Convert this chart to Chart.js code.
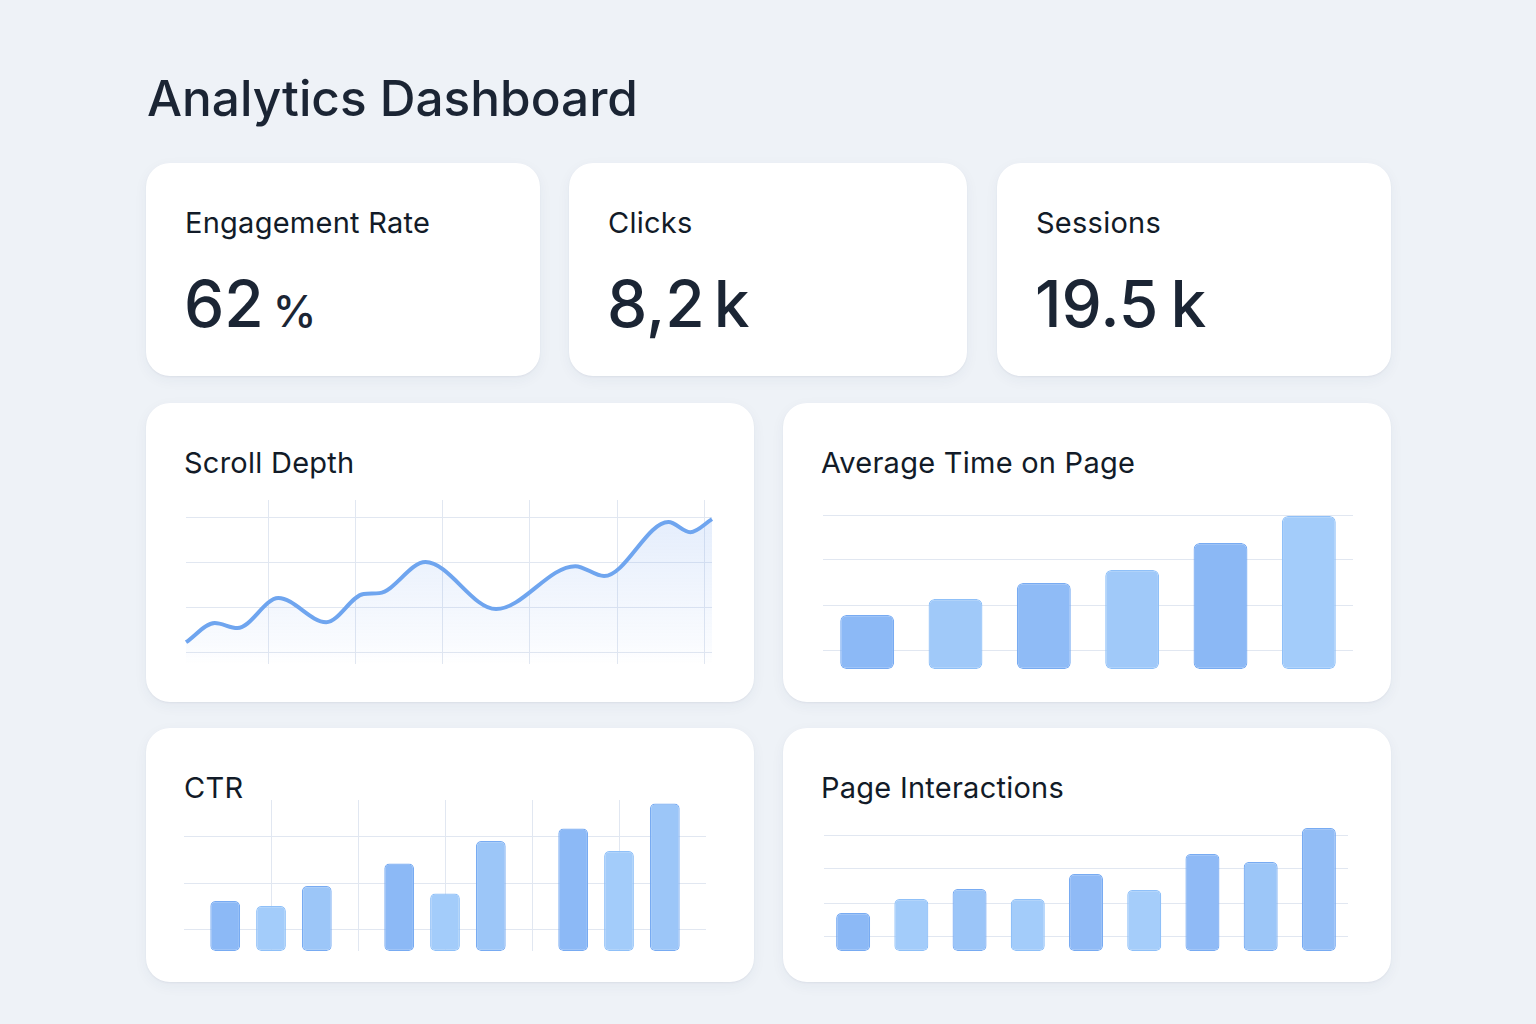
<!DOCTYPE html>
<html>
<head>
<meta charset="utf-8">
<title>Analytics Dashboard</title>
<script src="https://cdn.jsdelivr.net/npm/chart.js@4.4.1/dist/chart.umd.min.js"></script>
<style>
    html, body { margin: 0; padding: 0; }
    body {
        width: 1536px; height: 1024px; position: relative; overflow: hidden;
        background: #eef2f7;
        font-family: Inter, "Noto Sans", sans-serif;
        color: #1b2534;
    }
    h1 {
        position: absolute; left: 147px; top: 74px; margin: 0;
        font-size: 49.5px; line-height: 1; font-weight: 500;
    }
    .card {
        position: absolute; background: #fff; border-radius: 24px;
        box-shadow: 0 1px 2px rgba(30, 50, 90, 0.06), 0 4px 14px rgba(30, 50, 90, 0.05);
    }
    .label {
        position: absolute; left: 39px; top: 45px;
        font-size: 29px; line-height: 1; font-weight: 400; letter-spacing: 0.25px;
        white-space: nowrap; color: #121b28;
    }
    .chart .label { left: 38px; }
    .value {
        position: absolute; left: 38px; top: 109px;
        font-size: 64px; line-height: 1; font-weight: 500; white-space: nowrap;
    }
    .value .unit { margin-left: 9px; }
    .value .pct { font-size: 44px; margin-left: 9px; }
    .plot { position: absolute; }
</style>
</head>
<body>
<h1>Analytics Dashboard</h1>

<div class="card" style="left:146px;top:163px;width:394px;height:213px">
    <div class="label">Engagement Rate</div>
    <div class="value">62<span class="pct">%</span></div>
</div>
<div class="card" style="left:569px;top:163px;width:398px;height:213px">
    <div class="label">Clicks</div>
    <div class="value">8,2<span class="unit">k</span></div>
</div>
<div class="card" style="left:997px;top:163px;width:394px;height:213px">
    <div class="label">Sessions</div>
    <div class="value">19.5<span class="unit" style="margin-left:12px">k</span></div>
</div>

<div class="card chart" style="left:146px;top:403px;width:608px;height:299px">
    <div class="label">Scroll Depth</div>
    <div class="plot" style="left:32px;top:89px;width:542px;height:180px"><canvas id="scrollChart"></canvas></div>
</div>
<div class="card chart" style="left:783px;top:403px;width:608px;height:299px">
    <div class="label">Average Time on Page</div>
    <div class="plot" style="left:40px;top:102px;width:530px;height:164px"><canvas id="timeChart"></canvas></div>
</div>
<div class="card chart" style="left:146px;top:728px;width:608px;height:254px">
    <div class="label">CTR</div>
    <div class="plot" style="left:38px;top:72px;width:522px;height:151px"><canvas id="ctrChart"></canvas></div>
</div>
<div class="card chart" style="left:783px;top:728px;width:608px;height:254px">
    <div class="label">Page Interactions</div>
    <div class="plot" style="left:41px;top:92px;width:524px;height:131px"><canvas id="interactionChart"></canvas></div>
</div>

<script>
//Scroll Depth (day of month / % scrolled)
const scrollDays = [0.25, 1.9, 3.2, 5.55, 8.3, 10.45, 11.35, 14.0, 18.05, 22.6, 24.25, 27.95, 29.2, 30.45];
const scrollDepth = [24.4, 32.9, 30.7, 44.0, 33.3, 45.8, 46.2, 60.0, 39.1, 58.2, 53.8, 77.8, 73.3, 79.1];
const scrollDayTicks = [5, 10, 15, 20, 25, 30];
const scrollDepthTicks = [20, 40, 60, 80];

//Average Time on Page (seconds)
const timeLabels = ['Mon', 'Tue', 'Wed', 'Thu', 'Fri', 'Sat'];
const timeSeconds = [54, 70, 86, 99, 126, 153];
const timeTicks = [19, 64, 109, 154];

//CTR (%), three bars per group
const ctrGroups = ['Jan', 'Feb', 'Mar'];
const ctrFirst = [2.0, 3.5, 4.9];
const ctrSecond = [1.8, 2.3, 4.0];
const ctrThird = [2.6, 4.4, 5.9];
const ctrTicks = [0.85, 2.7, 4.6];

//Page Interactions
const interactionLabels = ['1', '2', '3', '4', '5', '6', '7', '8', '9'];
const interactionCounts = [380, 520, 620, 520, 770, 610, 970, 890, 1230];
const interactionTicks = [150, 480, 820, 1150];

//Colours
const gridColor = '#e1e7f1';
const lineColor = '#6fa5ef';
const timeColors = ['#8cb9f6', '#a0c9f9', '#8fbbf6', '#a0c9f9', '#8bb8f5', '#a3ccfa'];
const ctrColors = ['#8cb9f6', '#a3ccfa', '#9cc6f8'];
const interactionColors = ['#8cb9f6', '#a3ccfa', '#9bc5f8', '#a3ccfa', '#8fbaf6', '#a5cdfa', '#8fbaf6', '#9cc6f8', '#92bdf6'];

function fixedTicks(values) {
    return function (axis) {
        axis.ticks = values.map(function (v) { return { value: v }; });
    };
}

function borderFor(color) {
    //slightly deeper edge on each bar
    return color === '#a3ccfa' || color === '#a0c9f9' || color === '#a5cdfa' ? '#8fc0f8' : '#78abf2';
}

function baseOptions() {
    return {
        responsive: true,
        maintainAspectRatio: false,
        animation: false,
        layout: { padding: 0 },
        plugins: { legend: { display: false }, tooltip: { enabled: false } },
        scales: {}
    };
}

function hiddenAxis(extra) {
    return Object.assign({
        ticks: { display: false },
        border: { display: false },
        grid: { color: gridColor, lineWidth: 1, drawTicks: false }
    }, extra);
}

function createScrollChart() {
    let opts = baseOptions();
    opts.layout.padding = 8;
    opts.scales.x = hiddenAxis({
        type: 'linear',
        min: scrollDays[0],
        max: scrollDays[scrollDays.length - 1],
        afterBuildTicks: fixedTicks(scrollDayTicks)
    });
    opts.scales.y = hiddenAxis({
        min: 14.7,
        max: 87.6,
        afterBuildTicks: fixedTicks(scrollDepthTicks)
    });
    new Chart(document.getElementById('scrollChart'), {
        type: 'line',
        data: {
            datasets: [{
                label: 'Scroll Depth',
                data: scrollDays.map(function (d, i) { return { x: d, y: scrollDepth[i] }; }),
                borderColor: lineColor,
                borderWidth: 4,
                pointRadius: 0,
                cubicInterpolationMode: 'monotone',
                clip: 8,
                fill: 'start',
                backgroundColor: function (ctx) {
                    let area = ctx.chart.chartArea;
                    if (!area) return 'rgba(120, 165, 240, 0.1)';
                    let g = ctx.chart.ctx.createLinearGradient(0, area.top, 0, area.bottom);
                    g.addColorStop(0, 'rgba(120, 165, 240, 0.22)');
                    g.addColorStop(0.9, 'rgba(120, 165, 240, 0.04)');
                    g.addColorStop(1, 'rgba(120, 165, 240, 0)');
                    return g;
                }
            }]
        },
        options: opts
    });
}

function createTimeChart() {
    let opts = baseOptions();
    opts.scales.x = hiddenAxis({ grid: { display: false, drawTicks: false } });
    opts.scales.y = hiddenAxis({ min: 0, max: 164, afterBuildTicks: fixedTicks(timeTicks) });
    new Chart(document.getElementById('timeChart'), {
        type: 'bar',
        data: {
            labels: timeLabels,
            datasets: [{
                label: 'Average Time on Page',
                data: timeSeconds,
                backgroundColor: timeColors,
                borderColor: timeColors.map(borderFor),
                borderWidth: 1.2,
                borderRadius: 6,
                borderSkipped: false,
                barPercentage: 0.61,
                categoryPercentage: 1
            }]
        },
        options: opts
    });
}

function createCtrChart() {
    let opts = baseOptions();
    opts.scales.x = hiddenAxis({ grid: { color: gridColor, drawTicks: false, offset: false } });
    //second axis only for the lines between groups
    opts.scales.x2 = hiddenAxis({
        type: 'category',
        offset: true,
        grid: {
            offset: true,
            drawTicks: false,
            color: function (ctx) {
                return (ctx.type !== 'tick' || ctx.index === 0) ? 'rgba(0,0,0,0)' : gridColor;
            }
        }
    });
    opts.scales.y = hiddenAxis({ min: 0, max: 6.04, afterBuildTicks: fixedTicks(ctrTicks) });
    let series = [ctrFirst, ctrSecond, ctrThird];
    new Chart(document.getElementById('ctrChart'), {
        type: 'bar',
        data: {
            labels: ctrGroups,
            datasets: series.map(function (values, i) {
                return {
                    label: 'CTR ' + (i + 1),
                    data: values,
                    backgroundColor: ctrColors[i],
                    borderColor: borderFor(ctrColors[i]),
                    borderWidth: 1.2,
                    borderRadius: 5,
                    borderSkipped: false,
                    barPercentage: 0.65,
                    categoryPercentage: 0.79
                };
            })
        },
        options: opts
    });
}

function createInteractionChart() {
    let opts = baseOptions();
    opts.scales.x = hiddenAxis({ grid: { display: false, drawTicks: false } });
    opts.scales.y = hiddenAxis({ min: 0, max: 1310, afterBuildTicks: fixedTicks(interactionTicks) });
    new Chart(document.getElementById('interactionChart'), {
        type: 'bar',
        data: {
            labels: interactionLabels,
            datasets: [{
                label: 'Page Interactions',
                data: interactionCounts,
                backgroundColor: interactionColors,
                borderColor: interactionColors.map(borderFor),
                borderWidth: 1.2,
                borderRadius: 5,
                borderSkipped: false,
                barPercentage: 0.584,
                categoryPercentage: 1
            }]
        },
        options: opts
    });
}

createScrollChart();
createTimeChart();
createCtrChart();
createInteractionChart();
</script>
</body>
</html>
